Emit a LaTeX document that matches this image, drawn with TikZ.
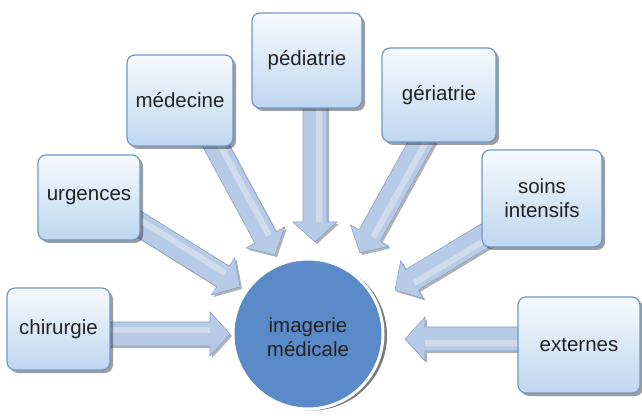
\documentclass[tikz,border=0pt]{standalone}
\usepackage{fontspec}
\setmainfont{Liberation Sans}
\usetikzlibrary{calc,shadows,backgrounds}
\definecolor{boxtop}{HTML}{F6FAFD}
\definecolor{boxbot}{HTML}{BED7F0}
\definecolor{boxedge}{HTML}{6E98C9}
\definecolor{circfill}{HTML}{5B8AC8}
\definecolor{arrowfill}{HTML}{B7CAE6}
\definecolor{arrowedge}{HTML}{8BA3CA}
\definecolor{txt}{HTML}{222222}
\tikzset{
  box/.style={rounded corners=8pt, draw=boxedge, line width=1.2pt,
    top color=boxtop, bottom color=boxbot, text=txt, align=center,
    inner sep=0pt, font=\fontsize{20.5}{24}\selectfont,
    drop shadow={shadow xshift=3pt, shadow yshift=-3pt, opacity=.45, fill=black!85}},
  blk/.style={fill=arrowfill, draw=arrowedge, line width=.6pt, line join=miter,
    drop shadow={shadow xshift=2pt, shadow yshift=-2pt, opacity=.3, fill=black}},
  circ/.style={circle, minimum size=150pt, inner sep=0pt, fill=circfill,
    draw=white, line width=3pt, text=txt, align=center,
    font=\fontsize{20.5}{24}\selectfont,
    drop shadow={shadow xshift=4pt, shadow yshift=-1.5pt, opacity=.6, fill=black!85}}
}
\newcommand\blkarrow[2]{%
  \coordinate (hh) at ($(#2)!20pt!(#1)$);
  \path[blk] ($(#1)!12pt!90:(#2)$) -- ($(hh)!12pt!-90:(#1)$) -- ($(hh)!22pt!-90:(#1)$)
    -- (#2) -- ($(hh)!22pt!90:(#1)$) -- ($(hh)!12pt!90:(#1)$) -- ($(#1)!12pt!-90:(#2)$) -- cycle;
  \draw[white, opacity=.35, line width=6pt] ($(#1)!4pt!90:(#2)$) -- ($(hh)!4pt!-90:(#1)$);
}
\begin{document}
\begin{tikzpicture}[x=1pt,y=-1pt]
\useasboundingbox (0,0) rectangle (642,419);
% boxes
\node[box, minimum width=103pt, minimum height=82pt] (chir) at (58.5,329) {chirurgie};
\node[box, minimum width=102pt, minimum height=85pt] (urg) at (89,197.5) {urgences};
\node[box, minimum width=106pt, minimum height=91pt] (med) at (180,100.5) {médecine};
\node[box, minimum width=110pt, minimum height=95pt] (ped) at (307,60.5) {pédiatrie};
\node[box, minimum width=114pt, minimum height=94pt] (ger) at (439,95) {gériatrie};
\node[box, minimum width=120pt, minimum height=97pt] (soins) at (542,198.5) {soins\\intensifs};
\node[box, minimum width=122pt, minimum height=96pt] (ext) at (579,345) {externes};
% centre
\node[circ] (c) at (308,334) {\raisebox{-6pt}[\height][\depth]{\begin{tabular}{@{}c@{}}imagerie\\médicale\end{tabular}}};
% arrow ends
\coordinate (s1) at ($(chir.east)+(-8,5)$);
\coordinate (s2) at ($(urg.east)+(-8,22.5)$);
\coordinate (s3) at ($(med.south)+(32,-8)$);
\coordinate (s4) at ($(ped.south)+(8,-8)$);
\coordinate (s5) at ($(ger.south)+(-14,-7)$);
\coordinate (s6) at ($(soins.west)+(8,34.5)$);
\coordinate (s7) at ($(ext.west)+(8,-6)$);
\coordinate (t1) at (230,334);
\coordinate (t2) at (240,287);
\coordinate (t3) at (275,255);
\coordinate (t4) at (315,242);
\coordinate (t5) at (360,253);
\coordinate (t6) at (395,290);
\coordinate (t7) at (405,339);
\begin{scope}[on background layer]
  \fill[white] (0,0) rectangle (642,419);
  \blkarrow{s1}{t1}
  \blkarrow{s2}{t2}
  \blkarrow{s3}{t3}
  \blkarrow{s4}{t4}
  \blkarrow{s5}{t5}
  \blkarrow{s6}{t6}
  \blkarrow{s7}{t7}
\end{scope}
\end{tikzpicture}
\end{document}
